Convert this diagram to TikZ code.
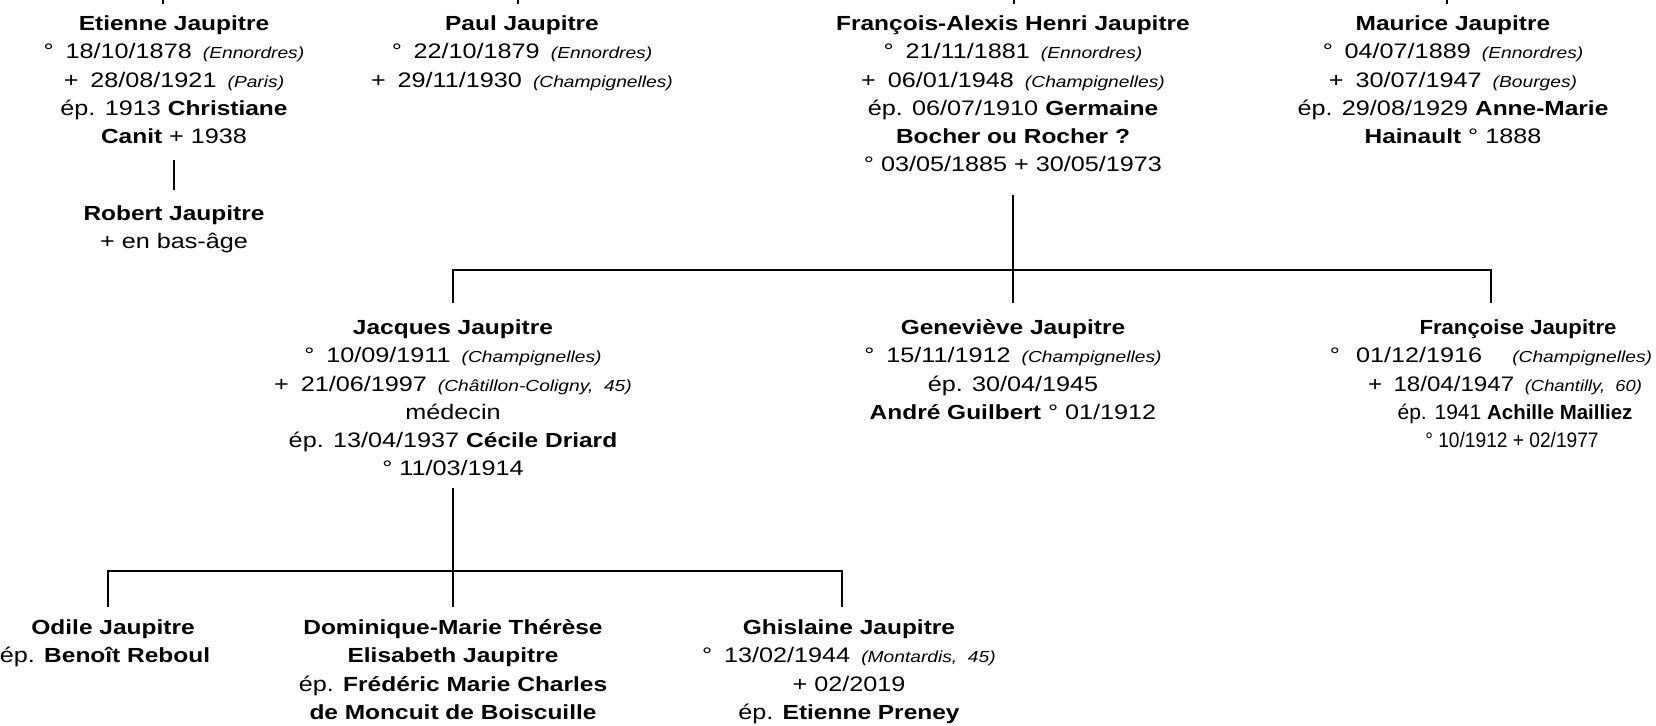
\documentclass[tikz,border=0pt]{standalone}
\usepackage{fontspec}
\setmainfont{Liberation Sans}
\usepackage{graphicx}
\newcommand{\nm}[1]{{\fontsize{10.2}{14.15}\selectfont\bfseries #1}}
\newcommand{\pl}[1]{{\fontsize{8}{10}\selectfont\itshape #1}}
\newcommand{\Nai}{°\hspace{0.47em}}
\newcommand{\Dec}{+\hspace{0.47em}}
\newcommand{\pg}{\hspace{0.44em}}
\newcommand{\blk}[2][0pt]{\scalebox{1.2}[1]{\begin{tabular}[t]{@{\hspace{#1}}c@{}}#2\end{tabular}}}
\newcommand{\sq}[2]{\scalebox{#1}[1]{#2}}
\begin{document}
\begin{tikzpicture}[x=0.5pt,y=-0.5pt,
  person/.style={inner sep=0pt, anchor=base, font=\fontsize{10.5}{14.15}\selectfont},
  link/.style={line width=1.1pt}]
\useasboundingbox (0,0) rectangle (1656,726);

% generation 1
\node[person] (etienne) at (174,30.5) {\blk{\nm{Etienne Jaupitre}\\
  \Nai 18/10/1878\pg\pl{(Ennordres)}\\
  \Dec 28/08/1921\pg\pl{(Paris)}\\
  ép. 1913 \nm{Christiane}\\
  \nm{Canit} + 1938}};
\node[person] (robert) at (174,220.5) {\blk{\nm{Robert Jaupitre}\\ + en bas-âge}};
\node[person] (paul) at (522,30.5) {\blk{\nm{Paul Jaupitre}\\
  \Nai 22/10/1879\pg\pl{(Ennordres)}\\
  \Dec 29/11/1930\pg\pl{(Champignelles)}}};
\node[person] (francois) at (1013,30.5) {\blk{\nm{François-Alexis Henri Jaupitre}\\
  \Nai 21/11/1881\pg\pl{(Ennordres)}\\
  \Dec 06/01/1948\pg\pl{(Champignelles)}\\
  ép. 06/07/1910 \nm{Germaine}\\
  \nm{Bocher ou Rocher ?}\\
  ° 03/05/1885 + 30/05/1973}};
\node[person] (maurice) at (1453,30.5) {\blk{\nm{Maurice Jaupitre}\\
  \Nai 04/07/1889\pg\pl{(Ennordres)}\\
  \Dec 30/07/1947\pg\pl{(Bourges)}\\
  ép. 29/08/1929 \nm{Anne-Marie}\\
  \nm{Hainault} ° 1888}};

% generation 2
\node[person] (jacques) at (453,334.5) {\blk{\nm{Jacques Jaupitre}\\
  \Nai 10/09/1911\pg\pl{(Champignelles)}\\
  \Dec 21/06/1997\pg\pl{(Châtillon-Coligny,\ \ 45)}\\
  médecin\\
  ép. 13/04/1937 \nm{Cécile Driard}\\
  ° 11/03/1914}};
\node[person] (genevieve) at (1013,334.5) {\blk{\nm{Geneviève Jaupitre}\\
  \Nai 15/11/1912\pg\pl{(Champignelles)}\\
  ép. 30/04/1945\\
  \nm{André Guilbert} ° 01/1912}};
\node[person] (francoise) at (1491,334.5) {\blk{\hspace*{22.5pt}\sq{0.905}{\nm{Françoise Jaupitre}}\\
  °\hspace{6.7pt}01/12/1916\hspace{12.5pt}\pl{(Champignelles)}\\
  \hspace*{11.7pt}\sq{0.957}{\Dec 18/04/1947\pg\pl{(Chantilly,\ \ 60)}}\\
  \hspace*{20pt}\sq{0.834}{ép. 1941 \nm{Achille Mailliez}}\\
  \hspace*{17.5pt}\sq{0.76}{° 10/1912 + 02/1977}}};

% generation 3
\node[person] (odile) at (108,634.5) {\blk{\hspace*{4.2pt}\nm{Odile Jaupitre}\\ ép. \nm{Benoît Reboul}\hspace*{2.5pt}}};
\node[person] (dominique) at (453,634.5) {\blk{\nm{Dominique-Marie Thérèse}\\
  \nm{Elisabeth Jaupitre}\\
  ép. \nm{Frédéric Marie Charles}\\
  \nm{de Moncuit de Boiscuille}}};
\node[person] (ghislaine) at (842,634.5) {\blk[5.8pt]{\nm{Ghislaine Jaupitre}\\
  \Nai 13/02/1944\pg\pl{(Montardis,\ \ 45)}\\
  + 02/2019\\
  ép. \nm{Etienne Preney}}};

% stubs to the parent above the picture
\coordinate (upE) at (163,-2);
\coordinate (upP) at (518,-2);
\coordinate (upF) at (1014,-2);
\coordinate (upM) at (1447,-2);
\foreach \c in {upE,upP,upF,upM} \draw[link] (\c) -- ++(0,6);

% connectors
\draw[link] (etienne |- 0,160) -- (robert |- 0,190);
\draw[link] (francois |- 0,195) -- (genevieve |- 0,303);
\draw[link] (jacques |- 0,303) |- (francoise |- 0,270) -- (francoise |- 0,303);
\draw[link] (jacques |- 0,488) -- (dominique |- 0,607);
\draw[link] (odile |- 0,607) |- (ghislaine |- 0,571) -- (ghislaine |- 0,607);
\end{tikzpicture}
\end{document}
